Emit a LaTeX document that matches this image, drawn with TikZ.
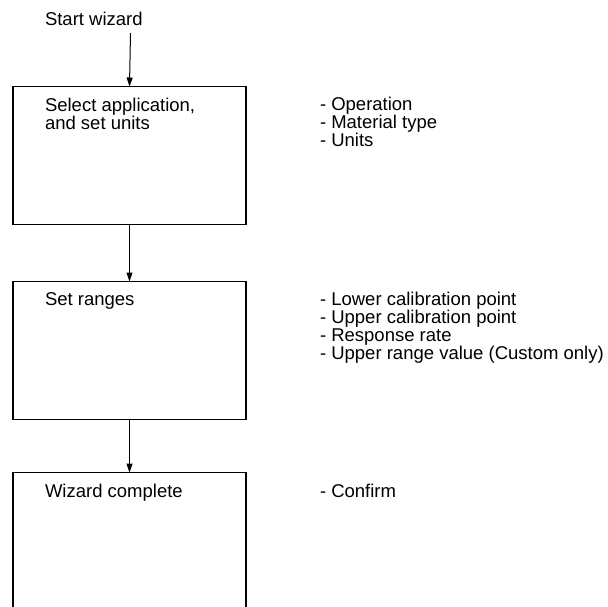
\documentclass[tikz,border=0pt]{standalone}
\usepackage{fontspec}
\setmainfont{Liberation Sans}
\usetikzlibrary{arrows.meta}
\begin{document}
\begin{tikzpicture}[x=1pt,y=-1pt,
  every node/.style={inner sep=0pt, outer sep=0pt, font=\fontsize{18.5}{18}\selectfont},
  stagebox/.style={draw, line width=1.8pt, minimum width=233pt, minimum height=138pt, anchor=north west},
  lbl/.style={anchor=base west, align=left},
  conn/.style={line width=1pt, -{Triangle[length=9pt,width=6pt]}}]
\clip (0,0) rectangle (608,606);
\useasboundingbox (0,0) rectangle (608,606);
\fill[white] (0,0) rectangle (608,606);
\node[stagebox] (b1) at (13,86.5) {};
\node[stagebox] (b2) at (13,281.5) {};
\node[stagebox] (b3) at (13,472.5) {};
\node[lbl] (start) at (45,25) {Start wizard};
\coordinate (s0) at (130.5,33);
% anchor base of a multi-line node = baseline of its last line
\node[lbl] (t1) at (45,129) {Select application,\\and set units};
\node[lbl] (t2) at (45,305) {Set ranges};
\node[lbl] (t3) at (45,497) {Wizard complete};
\node[lbl] (l1) at (320,146) {- Operation\\- Material type\\- Units};
\node[lbl] (l2) at (320,359) {- Lower calibration point\\- Upper calibration point\\- Response rate\\- Upper range value (Custom only)};
\node[lbl] (l3) at (320,497) {- Confirm};
\draw[conn] (s0) -- (b1.north);
\draw[conn] (b1.south) -- (b2.north);
\draw[conn] (b2.south) -- (b3.north);
\end{tikzpicture}
\end{document}
